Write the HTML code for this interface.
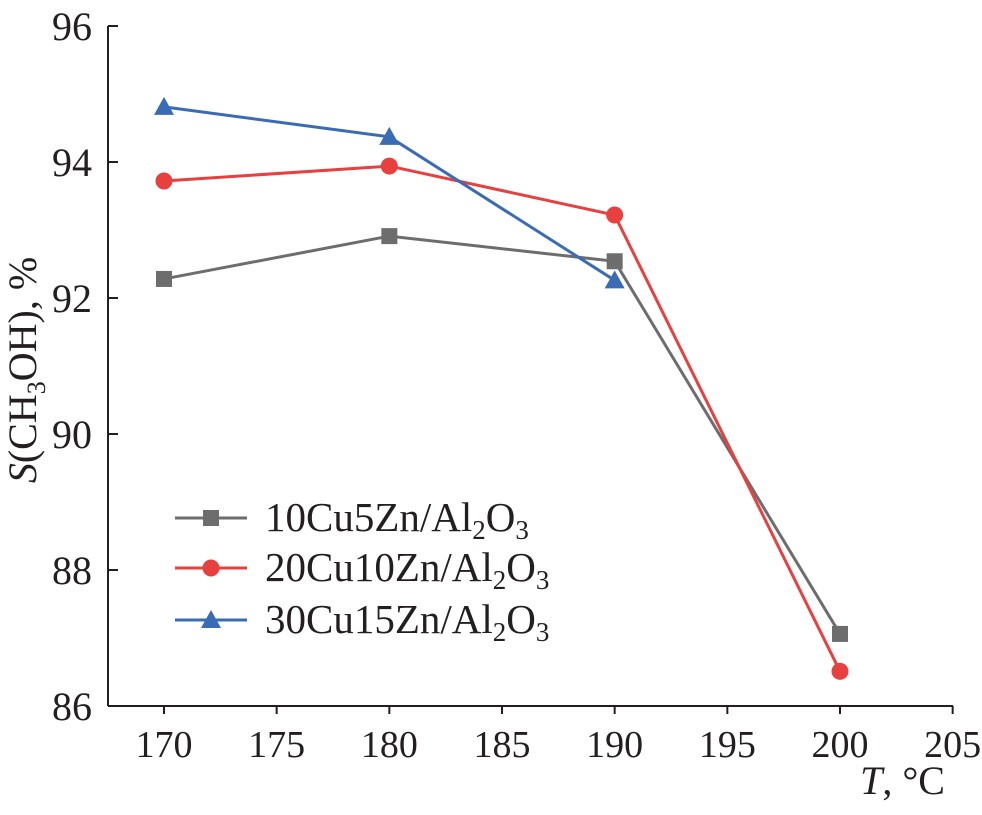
<!DOCTYPE html>
<html><head><meta charset="utf-8"><style>
body{margin:0;background:#fff}
svg text{font-family:"Liberation Serif",serif;fill:#231f20}
</style></head><body>
<svg id="chart" width="982" height="810" viewBox="0 0 982 810">
<g id="axes"></g><g id="series"></g><g id="legend"></g>
<text x="36" y="370" font-size="40" text-anchor="middle" transform="rotate(-90 36 370)"><tspan font-style="italic">S</tspan>(CH<tspan font-size="26" dy="9">3</tspan><tspan dy="-9">OH), %</tspan></text>
<text x="945" y="794" font-size="40" text-anchor="end"><tspan font-style="italic">T</tspan>, °C</text>
</svg>
<script>
const categories=[170,180,190,200];
const s1=[92.28,92.91,92.54,87.06];
const s2=[93.72,93.94,93.22,86.51];
const s3=[94.81,94.37,92.26];
const xTicks=[170,175,180,185,190,195,200,205];
const yTicks=[86,88,90,92,94,96];
const seriesNames=["10Cu5Zn/Al","20Cu10Zn/Al","30Cu15Zn/Al"];
const NS="http://www.w3.org/2000/svg";
const X=v=>164+(v-170)*(840-164)/30;
const Y=v=>706-(v-86)*68;
function mk(t,a,p){const e=document.createElementNS(NS,t);for(const k in a)e.setAttribute(k,a[k]);p.appendChild(e);return e;}
const axes=document.getElementById('axes');
let e=mk('line',{x1:108,y1:26,x2:108,y2:706,stroke:'#231f20','stroke-width':2},axes);


e=mk('line',{x1:108,y1:706,x2:953,y2:706,stroke:'#231f20','stroke-width':2},axes);


yTicks.forEach(v=>{
 mk('line',{x1:108,y1:Y(v),x2:118,y2:Y(v),stroke:'#231f20','stroke-width':2},axes);
 const t=mk('text',{x:92,y:Y(v)+14,'font-size':40,'text-anchor':'end'},axes);t.textContent=v;
 
 
});
xTicks.forEach(v=>{
 mk('line',{x1:X(v),y1:706,x2:X(v),y2:714,stroke:'#231f20','stroke-width':2},axes);
 const t=mk('text',{x:X(v),y:757,'font-size':38,'text-anchor':'middle'},axes);t.textContent=v;
 
 
});
const sg=document.getElementById('series');
const cols=['#6d6d6d','#e8403f','#3a6bb5'];
function marker(type,x,y,c,p){
 let m;
 if(type==0)m=mk('rect',{x:x-8,y:y-8,width:16,height:16,fill:c},p);
 else if(type==1)m=mk('circle',{cx:x,cy:y,r:8.5,fill:c},p);
 else m=mk('polygon',{points:`${x},${y-10} ${x+10},${y+8} ${x-10},${y+8}`,fill:c},p);
 
 
}
[s1,s2,s3].forEach((s,i)=>{
 const g=mk('g',{},sg);
 
 
 const pts=s.map((v,j)=>X(categories[j])+','+Y(v)).join(' ');
 mk('polyline',{points:pts,fill:'none',stroke:cols[i],'stroke-width':3},g);
 s.forEach((v,j)=>marker(i,X(categories[j]),Y(v),cols[i],g));
});
const lg=document.getElementById('legend');
[518,568,620].forEach((y,i)=>{
 const g=mk('g',{},lg);
 
 
 mk('line',{x1:175,y1:y,x2:247,y2:y,stroke:cols[i],'stroke-width':3},g);
 marker(i,211,y,cols[i],g);
 const t=mk('text',{x:265,y:y+13,'font-size':41},g);
 t.textContent=seriesNames[i];
 const a=mk('tspan',{'font-size':27,dy:8},t);a.textContent='2';
 const b=mk('tspan',{dy:-8},t);b.textContent='O';
 const c=mk('tspan',{'font-size':27,dy:8},t);c.textContent='3';
});
</script>
</body></html>
